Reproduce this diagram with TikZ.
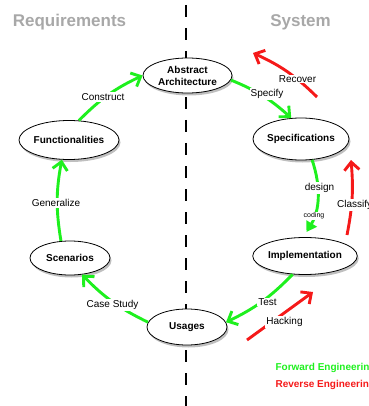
\documentclass[tikz,border=0pt]{standalone}
\usepackage{fontspec}
\setmainfont{Liberation Sans}
\usetikzlibrary{arrows.meta,shapes.geometric,shadows}
\definecolor{fwd}{RGB}{30,240,30}
\definecolor{rev}{RGB}{245,25,25}
\definecolor{headgray}{RGB}{168,168,168}
\tikzset{
  stage/.style={ellipse, draw=black, line width=0.8pt, fill=white, inner sep=0pt,
    font=\fontsize{10}{12}\selectfont\bfseries, align=center,
    drop shadow={opacity=0.5, shadow xshift=1.5pt, shadow yshift=-2.5pt}},
  fwdarrow/.style={draw=fwd, line width=2.9pt, -{Straight Barb[length=8pt,width=15pt]}},
  fwdfill/.style={draw=fwd, line width=2.9pt, -{Triangle[length=10pt,width=12pt]}},
  revarrow/.style={draw=rev, line width=2.9pt, -{Straight Barb[length=8pt,width=15pt]}},
  lbl/.style={fill=white, inner sep=1pt, font=\fontsize{10}{12}\selectfont},
  smalllbl/.style={fill=white, inner sep=0.5pt, font=\fontsize{7}{8}\selectfont},
  heading/.style={font=\fontsize{17}{20}\selectfont\bfseries, text=headgray, anchor=base},
  legend/.style={font=\fontsize{10}{12}\selectfont\bfseries, anchor=base west},
  divider/.style={line width=2.6pt, dash pattern=on 12pt off 11pt},
}
\begin{document}
\begin{tikzpicture}[x=1pt,y=-1pt]
\useasboundingbox (0,0) rectangle (368,406);
% divider
\coordinate (divtop) at (186,5);
\coordinate (divbot) at (186,410);
\draw[divider] (divtop) -- (divbot);
% headings
\node[heading] (hreq) at (69.5,27) {Requirements};
\node[heading] (hsys) at (300.5,27) {System};
% stages
\node[stage, minimum width=89pt, minimum height=35pt] (aa) at (187.5,75.5) {Abstract\\Architecture};
\node[stage, minimum width=96pt, minimum height=42pt] (spec) at (301,139) {Specifications};
\node[stage, minimum width=100pt, minimum height=39pt] (fun) at (69,140) {Functionalities};
\node[stage, minimum width=80pt, minimum height=34pt] (scen) at (70,258) {Scenarios};
\node[stage, minimum width=104pt, minimum height=37pt] (impl) at (305,256) {Implementation};
\node[stage, minimum width=80pt, minimum height=36pt] (usa) at (187,327) {Usages};
% forward engineering
\draw[fwdarrow] (fun.63) to[bend left=10] (aa.180);
\draw[fwdarrow] (aa.-6) to[bend left=10] (spec.115);
\draw[fwdarrow] (scen.118) to[bend left=10] (fun.250);
\draw[fwdfill, shorten >=6pt] (spec.-62) to[bend left=25] (impl.95);
\draw[fwdarrow] (impl.236) to[bend left=10] (usa.7);
\draw[fwdarrow] (usa.173) to[bend left=10] (scen.-54);
% reverse engineering
\coordinate (recS) at (317,97);
\coordinate (recE) at (253,53);
\draw[revarrow] (recS) to[bend right=10] (recE);
\coordinate (claS) at (347,235);
\coordinate (claE) at (351,160);
\draw[revarrow] (claS) to[bend right=8] (claE);
\coordinate (hacS) at (247,340);
\coordinate (hacE) at (313,292);
\draw[revarrow] (hacS) -- (hacE);
% labels
\node[lbl] (lconstruct) at (103,97) {Construct};
\node[lbl] (lspecify) at (267,94) {Specify};
\node[lbl] (lgeneralize) at (56,203) {Generalize};
\node[lbl] (ldesign) at (319.5,188) {design};
\node[smalllbl] (lcoding) at (314,216) {coding};
\node[lbl] (ltest) at (267.5,302) {Test};
\node[lbl] (lcase) at (112.5,305) {Case Study};
\node[lbl] (lrecover) at (297.5,79) {Recover};
\node[lbl, anchor=west] (lclassify) at (336,205) {Classify};
\node[lbl] (lhacking) at (284.5,322) {Hacking};
% legend
\node[legend, text=fwd] (legf) at (272,370.5) {Forward Engineering};
\node[legend, text=rev] (legr) at (272,387.5) {Reverse Engineering};
\end{tikzpicture}
\end{document}
